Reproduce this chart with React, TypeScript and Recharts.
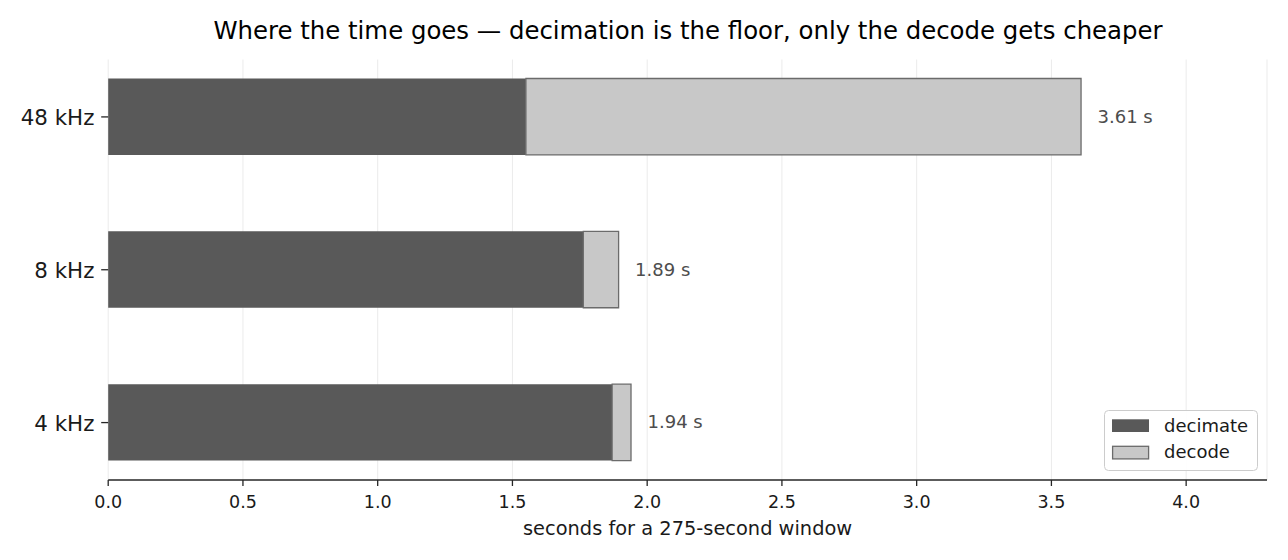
import React from 'react';
import { BarChart, Bar, XAxis, YAxis, CartesianGrid, Legend, LabelList, Label } from 'recharts';

const categories = ['48 kHz', '8 kHz', '4 kHz'];
const decimateSec = [1.55, 1.763, 1.87];
const decodeSec = [2.06, 0.131, 0.07];
const xTicks = [0, 0.5, 1.0, 1.5, 2.0, 2.5, 3.0, 3.5, 4.0];
const seriesNames = ['decimate', 'decode'];
const titleText = 'Where the time goes — decimation is the floor, only the decode gets cheaper';
const xLabelText = 'seconds for a 275-second window';

const data = categories.map((name, i) => ({
  name,
  decimate: decimateSec[i],
  decode: decodeSec[i],
  total: decimateSec[i] + decodeSec[i],
}));

const FONT = '"DejaVu Sans", sans-serif';
const DECIMATE_FILL = '#595959';
const DECODE_FILL = '#c8c8c8';
const DECODE_EDGE = '#6b6b6b';
const AXIS = '#262626';

const renderXTick = (props: any) => {
  const { x, y, payload } = props;
  return (
    <text x={x} y={y} dy={20} textAnchor="middle" fontFamily={FONT} fontSize={17.5} fill="#1a1a1a">
      {Number(payload.value).toFixed(1)}
    </text>
  );
};

const renderYTick = (props: any) => {
  const { x, y, payload } = props;
  return (
    <text x={x - 0.8} y={y} dy={8.3} textAnchor="end" fontFamily={FONT} fontSize={21.4} fill="#1a1a1a">
      {payload.value}
    </text>
  );
};

const renderXLabel = (props: any) => {
  const vb = props.viewBox || {};
  return (
    <text x={vb.x + vb.width / 2} y={vb.y + 55} textAnchor="middle" fontFamily={FONT} fontSize={19.4} fill="#1a1a1a">
      {xLabelText}
    </text>
  );
};

const renderValue = (props: any) => {
  const { x, y, width, height, value } = props;
  return (
    <text x={Number(x) + Number(width) + 16.5} y={Number(y) + Number(height) / 2} dy={6} textAnchor="start" fontFamily={FONT} fontSize={18} fill="#4d4d4d">
      {`${Number(value).toFixed(2)} s`}
    </text>
  );
};

const renderLegend = () => {
  return (
    <svg width={155} height={62} style={{ display: 'block' }}>
      <rect x={0.5} y={0.5} width={153} height={60} rx={4} ry={4} fill="#ffffff" fillOpacity={0.9} stroke="#cccccc" strokeWidth={1} />
      <rect x={8} y={9.3} width={37} height={12.7} fill={DECIMATE_FILL} />
      <rect x={8.6} y={36.3} width={36} height={12.6} fill={DECODE_FILL} stroke={DECODE_EDGE} strokeWidth={1.3} />
      <text x={60} y={21.7} fontFamily={FONT} fontSize={18} fill="#1a1a1a">{seriesNames[0]}</text>
      <text x={60} y={48} fontFamily={FONT} fontSize={18} fill="#1a1a1a">{seriesNames[1]}</text>
    </svg>
  );
};

export default function App() {
  return (
    <div style={{ position: 'absolute', left: 0, top: 0, width: 1288, height: 560, background: '#ffffff' }}>
      <BarChart
        width={1288}
        height={560}
        data={data}
        layout="vertical"
        margin={{ top: 59.5, right: 21, bottom: 0, left: 0 }}
        barSize={76.4}
      >
        <CartesianGrid horizontal={false} stroke="#ebebeb" strokeWidth={1} />
        <XAxis
          type="number"
          domain={[0, 4.3]}
          ticks={xTicks}
          interval={0}
          height={80}
          axisLine={{ stroke: AXIS, strokeWidth: 1.3 }}
          tickLine={{ stroke: AXIS, strokeWidth: 1.3 }}
          tickSize={6}
          tickMargin={2}
          tick={renderXTick}
        >
          <Label content={renderXLabel} />
        </XAxis>
        <YAxis
          type="category"
          dataKey="name"
          width={108.2}
          axisLine={false}
          tickLine={{ stroke: AXIS, strokeWidth: 1.3 }}
          tickSize={7}
          tickMargin={6}
          tick={renderYTick}
          padding={{ top: -19, bottom: -19 }}
        />
        <Bar dataKey="decimate" name={seriesNames[0]} stackId="t" fill={DECIMATE_FILL} isAnimationActive={false} />
        <Bar dataKey="decode" name={seriesNames[1]} stackId="t" fill={DECODE_FILL} stroke={DECODE_EDGE} strokeWidth={1.3} isAnimationActive={false}>
          <LabelList dataKey="total" content={renderValue} />
        </Bar>
        <Legend
          layout="horizontal"
          verticalAlign="middle"
          align="center"
          content={renderLegend}
          wrapperStyle={{ position: 'absolute', left: 1104, top: 410, width: 155, height: 62, lineHeight: 0 }}
        />
      </BarChart>
      <svg width={1288} height={60} style={{ position: 'absolute', left: 0, top: 0, pointerEvents: 'none' }}>
        <text x={688} y={39.3} textAnchor="middle" fontFamily={FONT} fontSize={24.4} fill="#000000">
          {titleText}
        </text>
      </svg>
    </div>
  );
}
